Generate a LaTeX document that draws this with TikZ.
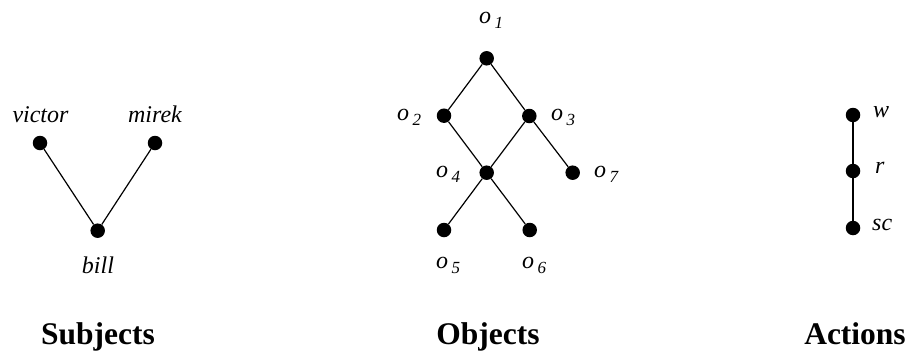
\documentclass[tikz,border=0pt]{standalone}
\usepackage{fontspec}
\setmainfont{Liberation Serif}
\newcommand{\lblfont}{\fontsize{24}{28}\selectfont\itshape}
\newcommand{\subfont}{\fontsize{17}{19}\selectfont\itshape}
\newcommand{\olab}[1]{o\hspace{3.5pt}\raisebox{-5pt}{\subfont #1}}
\begin{document}
\begin{tikzpicture}[x=1pt,y=-1pt,
  dot/.style={circle,fill=black,inner sep=0pt,minimum size=14.5pt},
  lbl/.style={inner sep=0pt,font=\lblfont},
  title/.style={inner sep=0pt,anchor=base,font=\fontsize{31.5}{36}\selectfont\bfseries},
  edge/.style={line width=1.2pt}]
\useasboundingbox (0,0) rectangle (905,351);
% Subjects
\node[dot] (sv) at (40,143) {};
\node[dot] (sm) at (155,143) {};
\node[dot] (sb) at (97.7,230.7) {};
\draw[edge] (sv) -- (sb);
\draw[edge] (sm) -- (sb);
\node[lbl,anchor=base] (lv) at (40.5,122.5) {victor};
\node[lbl,anchor=base] (lm) at (155,122.5) {mirek};
\node[lbl,anchor=base] (lb) at (98,273) {bill};
\node[title] (ts) at (98,344) {Subjects};
% Objects
\node[dot] (o1) at (486.7,58.3) {};
\node[dot] (o2) at (444,115.7) {};
\node[dot] (o3) at (529.3,116) {};
\node[dot] (o4) at (486.7,172.7) {};
\node[dot] (o7) at (572.7,172.7) {};
\node[dot] (o5) at (444,230) {};
\node[dot] (o6) at (529.7,230) {};
\draw[edge] (o1) -- (o2);
\draw[edge] (o1) -- (o3);
\draw[edge] (o2) -- (o4);
\draw[edge] (o3) -- (o4);
\draw[edge] (o3) -- (o7);
\draw[edge] (o4) -- (o5);
\draw[edge] (o4) -- (o6);
\node[lbl,anchor=base west] (l1) at (479,23) {\olab{1}};
\node[lbl,anchor=base west] (l2) at (397,120) {\olab{2}};
\node[lbl,anchor=base west] (l3) at (551,120) {\olab{3}};
\node[lbl,anchor=base west] (l4) at (436,177) {\olab{4}};
\node[lbl,anchor=base west] (l7) at (594,177) {\olab{7}};
\node[lbl,anchor=base west] (l5) at (436,268) {\olab{5}};
\node[lbl,anchor=base west] (l6) at (522,268) {\olab{6}};
\node[title] (to) at (488,344) {Objects};
% Actions
\node[dot] (aw) at (853,115) {};
\node[dot] (ar) at (853,171) {};
\node[dot] (asc) at (853,228) {};
\draw[edge] (aw) -- (ar);
\draw[edge] (ar) -- (asc);
\node[lbl,anchor=base west] (lw) at (873,117) {w};
\node[lbl,anchor=base west] (lr) at (875,173) {r};
\node[lbl,anchor=base west] (lsc) at (872,230) {sc};
\node[title] (ta) at (855,344) {Actions};
\end{tikzpicture}
\end{document}
